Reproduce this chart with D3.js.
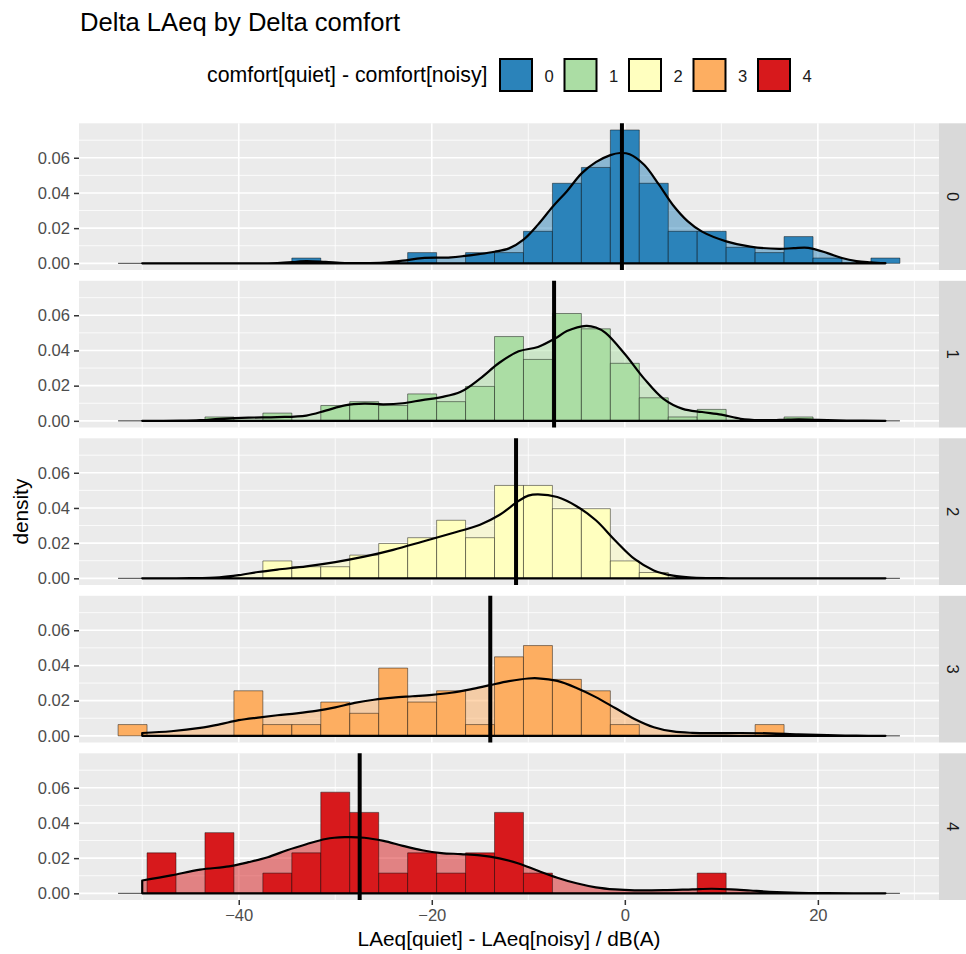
<!DOCTYPE html>
<html><head><meta charset="utf-8">
<script src="https://cdn.jsdelivr.net/npm/d3@7"></script>
<style>
body{margin:0;background:#fff}
svg{display:block}
text{font-family:"Liberation Sans",Arial,Helvetica,sans-serif}
</style>
</head><body>
<svg id="chart" width="966" height="954"></svg>
<script>
// ---------------- data ----------------
const groups = ["0", "1", "2", "3", "4"];
const colors = ["#2B83BA", "#ABDDA4", "#FFFFBF", "#FDAE61", "#D7191C"];
const binWidth = 3;
const binCenters = [-51,-48,-45,-42,-39,-36,-33,-30,-27,-24,-21,-18,-15,-12,-9,-6,-3,0,3,6,9,12,15,18,21,24,27];

// histogram densities per bin (aligned with binCenters)
const hist0 = [0,0,0,0,0,0,0.0030,0,0,0,0.0061,0,0.0061,0.0061,0.0182,0.0455,0.0545,0.0758,0.0455,0.0182,0.0182,0.0091,0.0061,0.0152,0.0030,0,0.0030];
const hist1 = [0,0,0,0.0022,0,0.0044,0,0.0087,0.0109,0.0087,0.0153,0.0109,0.0196,0.0479,0.0349,0.0610,0.0523,0.0327,0.0131,0.0022,0.0065,0,0,0.0022,0,0,0];
const hist2 = [0,0,0,0,0,0.0099,0.0066,0.0066,0.0132,0.0198,0.0231,0.0330,0.0231,0.0528,0.0528,0.0396,0.0396,0.0099,0.0033,0,0,0,0,0,0,0,0];
const hist3 = [0.0064,0,0,0,0.0256,0.0064,0.0064,0.0192,0.0128,0.0385,0.0192,0.0256,0.0064,0.0449,0.0513,0.0321,0.0256,0.0064,0,0,0,0,0.0064,0,0,0,0];
const hist4 = [0,0.0230,0,0.0345,0,0.0115,0.0230,0.0575,0.0460,0.0115,0.0230,0.0115,0.0230,0.0460,0.0115,0,0,0,0,0,0.0115,0,0,0,0,0,0];

// kernel density curves [x, density]
const dens0 = [[-50,0],[-40,0],[-36,0.0002],[-34,0.0009],[-33,0.0013],[-31,0.0008],[-29,0.0002],[-27,0.0001],[-25,0.0004],[-23,0.0015],[-21,0.0030],[-18,0.0034],[-15,0.0053],[-13.5,0.0066],[-12,0.0085],[-10.5,0.0135],[-9,0.022],[-7.5,0.032],[-6,0.041],[-4.5,0.051],[-3,0.0575],[-1.5,0.0615],[-0.5,0.0627],[0.5,0.062],[2,0.056],[3.5,0.045],[5,0.033],[6.5,0.024],[8,0.018],[10.5,0.0125],[13,0.0095],[16,0.0082],[17.5,0.0086],[19,0.0088],[21,0.0058],[22.5,0.0030],[24,0.0013],[25.5,0.0006],[27,0.0001]];
const dens1 = [[-50,0],[-46,0.0001],[-44,0.0004],[-42,0.0011],[-39,0.0018],[-36,0.0021],[-33,0.0030],[-31,0.0058],[-29,0.0088],[-27,0.0098],[-25,0.0094],[-23,0.0100],[-21,0.0118],[-19,0.0135],[-17,0.0165],[-15,0.024],[-13,0.033],[-11,0.0395],[-9,0.042],[-7,0.0475],[-6,0.051],[-4,0.054],[-3,0.053],[-2,0.050],[0,0.038],[2,0.024],[4,0.0125],[6,0.0068],[8,0.0050],[10,0.0035],[12,0.0012],[14,0.0004],[16,0.0005],[18,0.0009],[20,0.0006],[23,0.0002],[27,0]];
const dens2 = [[-50,0],[-45,0.0001],[-42,0.0006],[-40,0.0018],[-38,0.0036],[-36,0.0050],[-33,0.0068],[-30,0.0092],[-27,0.0123],[-24,0.0162],[-21,0.0208],[-18,0.0255],[-15,0.0305],[-13,0.036],[-11,0.044],[-10,0.047],[-9,0.0477],[-7,0.0462],[-5,0.041],[-3,0.033],[-1,0.0215],[1,0.011],[3,0.0045],[5,0.0015],[7,0.0004],[10,0.0001],[14,0],[27,0]];
const dens3 = [[-50,0.0016],[-47,0.0026],[-44,0.0045],[-42,0.0065],[-40,0.0089],[-38,0.0104],[-36,0.0117],[-34,0.0128],[-32,0.0142],[-30,0.0162],[-28,0.0187],[-26,0.0205],[-24,0.0217],[-22,0.0225],[-20,0.0233],[-18,0.0245],[-16,0.0264],[-14,0.0288],[-12,0.0311],[-10,0.0326],[-9,0.0327],[-7,0.0312],[-5,0.0272],[-3,0.0220],[-1,0.0158],[1,0.0096],[3,0.0049],[5,0.0025],[7,0.0017],[9,0.0015],[12,0.0016],[15,0.0014],[18,0.0008],[21,0.0004],[24,0.0001],[27,0]];
const dens4 = [[-50,0.0073],[-47,0.0102],[-44,0.0135],[-41,0.0153],[-39,0.0177],[-37,0.0205],[-35,0.0245],[-33,0.0279],[-31,0.0309],[-29,0.0319],[-27,0.0316],[-25,0.0298],[-23,0.0270],[-21,0.0245],[-19,0.0229],[-17,0.0223],[-15,0.0216],[-13,0.0199],[-11,0.0170],[-9,0.0128],[-7,0.0089],[-5,0.0057],[-3,0.0034],[-1,0.0022],[1,0.0017],[4,0.0018],[7,0.0023],[9,0.0026],[11,0.0023],[13,0.0016],[15,0.0009],[18,0.0003],[21,0.0001],[27,0]];

const means = [-0.3, -7.33, -11.27, -13.94, -27.47];

const xTicks = [-40, -20, 0, 20];
const xMinor = [-50, -30, -10, 10, 30];
const yTicks = [0, 0.02, 0.04, 0.06];
const yMinor = [0.01, 0.03, 0.05, 0.07];

const titleText = "Delta LAeq by Delta comfort";
const legendTitle = "comfort[quiet] - comfort[noisy]";
const xTitle = "LAeq[quiet] - LAeq[noisy] / dB(A)";
const yTitle = "density";

const hists = [hist0, hist1, hist2, hist3, hist4];
const denss = [dens0, dens1, dens2, dens3, dens4];

// ---------------- layout ----------------
const svg = d3.select("#chart");
const panelLeft = 79, panelRight = 939;
const panelTop0 = 123.3, panelH = 146.7, panelPitch = 157.5;
const stripW = 27;

const xMinData = d3.min(binCenters) - binWidth / 2;
const xMaxData = d3.max(binCenters) + binWidth / 2;
const xPad = (xMaxData - xMinData) * 0.05;
const x = d3.scaleLinear().domain([xMinData - xPad, xMaxData + xPad]).range([panelLeft, panelRight]);

const yMaxData = d3.max(hists.flat());
const yPad = yMaxData * 0.05;

// title
svg.append("text").attr("x", 80).attr("y", 31).attr("font-size", 25.6).attr("fill", "#000").text(titleText);

// legend
const lg = svg.append("g");
lg.append("text").attr("x", 207).attr("y", 82).attr("font-size", 21.3).attr("fill", "#000").text(legendTitle);
groups.forEach((g, i) => {
  const kx = 500 + i * 64.5;
  lg.append("rect").attr("x", kx).attr("y", 59).attr("width", 32).attr("height", 32)
    .attr("fill", colors[i]).attr("stroke", "#000").attr("stroke-width", 2);
  lg.append("text").attr("x", kx + 44.5).attr("y", 81.5).attr("font-size", 16.6).attr("fill", "#1A1A1A").text(g);
});

const area = d3.area().curve(d3.curveCatmullRom.alpha(0.5));

groups.forEach((g, i) => {
  const top = panelTop0 + i * panelPitch;
  const bottom = top + panelH;
  const y = d3.scaleLinear().domain([-yPad, yMaxData + yPad]).range([bottom, top]);
  const p = svg.append("g");

  // background
  p.append("rect").attr("x", panelLeft).attr("y", top).attr("width", panelRight - panelLeft).attr("height", panelH).attr("fill", "#EBEBEB");
  // minor grid
  p.selectAll(null).data(xMinor).join("line")
    .attr("x1", d => x(d)).attr("x2", d => x(d)).attr("y1", top).attr("y2", bottom)
    .attr("stroke", "#fff").attr("stroke-width", 0.8);
  p.selectAll(null).data(yMinor).join("line")
    .attr("x1", panelLeft).attr("x2", panelRight).attr("y1", d => y(d)).attr("y2", d => y(d))
    .attr("stroke", "#fff").attr("stroke-width", 0.8);
  // major grid
  p.selectAll(null).data(xTicks).join("line")
    .attr("x1", d => x(d)).attr("x2", d => x(d)).attr("y1", top).attr("y2", bottom)
    .attr("stroke", "#fff").attr("stroke-width", 1.6);
  p.selectAll(null).data(yTicks).join("line")
    .attr("x1", panelLeft).attr("x2", panelRight).attr("y1", d => y(d)).attr("y2", d => y(d))
    .attr("stroke", "#fff").attr("stroke-width", 1.6);

  // density fill
  area.x(d => x(d[0])).y0(y(0)).y1(d => y(Math.max(0, d[1])));
  const dPath = area(denss[i]);
  p.append("path").attr("d", dPath).attr("fill", colors[i]).attr("fill-opacity", 0.5).attr("stroke", "none");

  // histogram bars
  const bars = binCenters.map((c, j) => ({c, v: hists[i][j]}));
  p.selectAll(null).data(bars).join("path")
    .attr("d", d => {
      const x0 = x(d.c - binWidth / 2), x1 = x(d.c + binWidth / 2);
      const y0 = y(0), y1 = y(d.v);
      return `M${x0},${y0}V${y1}H${x1}V${y0}Z`;
    })
    .attr("fill", colors[i]).attr("stroke", "#000").attr("stroke-opacity", 0.5).attr("stroke-width", 0.9);

  // density outline
  p.append("path").attr("d", dPath).attr("fill", "none").attr("stroke", "#000").attr("stroke-width", 2.2).attr("stroke-linejoin", "round");

  // mean line
  p.append("line").attr("x1", x(means[i])).attr("x2", x(means[i])).attr("y1", top).attr("y2", bottom)
    .attr("stroke", "#000").attr("stroke-width", 4);

  // y axis
  const ya = p.append("g").attr("transform", `translate(${panelLeft},0)`)
    .call(d3.axisLeft(y).tickValues(yTicks).tickFormat(d3.format(".2f")).tickSize(5).tickPadding(4));
  ya.select(".domain").remove();
  ya.selectAll(".tick line").attr("stroke", "#333").attr("stroke-width", 1.5);
  ya.selectAll(".tick text").attr("fill", "#4D4D4D").attr("font-size", 16.6)
    .attr("font-family", '"Liberation Sans",Arial,sans-serif');

  // strip
  p.append("rect").attr("x", panelRight).attr("y", top).attr("width", stripW).attr("height", panelH).attr("fill", "#D9D9D9");
  p.append("text").attr("transform", `translate(${panelRight + stripW / 2},${top + panelH / 2}) rotate(90)`)
    .attr("text-anchor", "middle").attr("dy", "0.35em").attr("font-size", 16.6).attr("fill", "#1A1A1A").text(g);

  if (i === groups.length - 1) {
    const xa = p.append("g").attr("transform", `translate(0,${bottom})`)
      .call(d3.axisBottom(x).tickValues(xTicks).tickFormat(d3.format("d")).tickSize(5).tickPadding(4));
    xa.select(".domain").remove();
    xa.selectAll(".tick line").attr("stroke", "#333").attr("stroke-width", 1.5);
    xa.selectAll(".tick text").attr("fill", "#4D4D4D").attr("font-size", 16.6)
      .attr("font-family", '"Liberation Sans",Arial,sans-serif');
  }
});

// axis titles
svg.append("text").attr("x", (panelLeft + panelRight) / 2).attr("y", 946).attr("text-anchor", "middle")
  .attr("font-size", 20.8).attr("fill", "#000").text(xTitle);
const midY = (panelTop0 + panelTop0 + 4 * panelPitch + panelH) / 2;
svg.append("text").attr("transform", `translate(28,${midY}) rotate(-90)`).attr("text-anchor", "middle")
  .attr("font-size", 20.8).attr("fill", "#000").text(yTitle);
</script>
</body></html>
